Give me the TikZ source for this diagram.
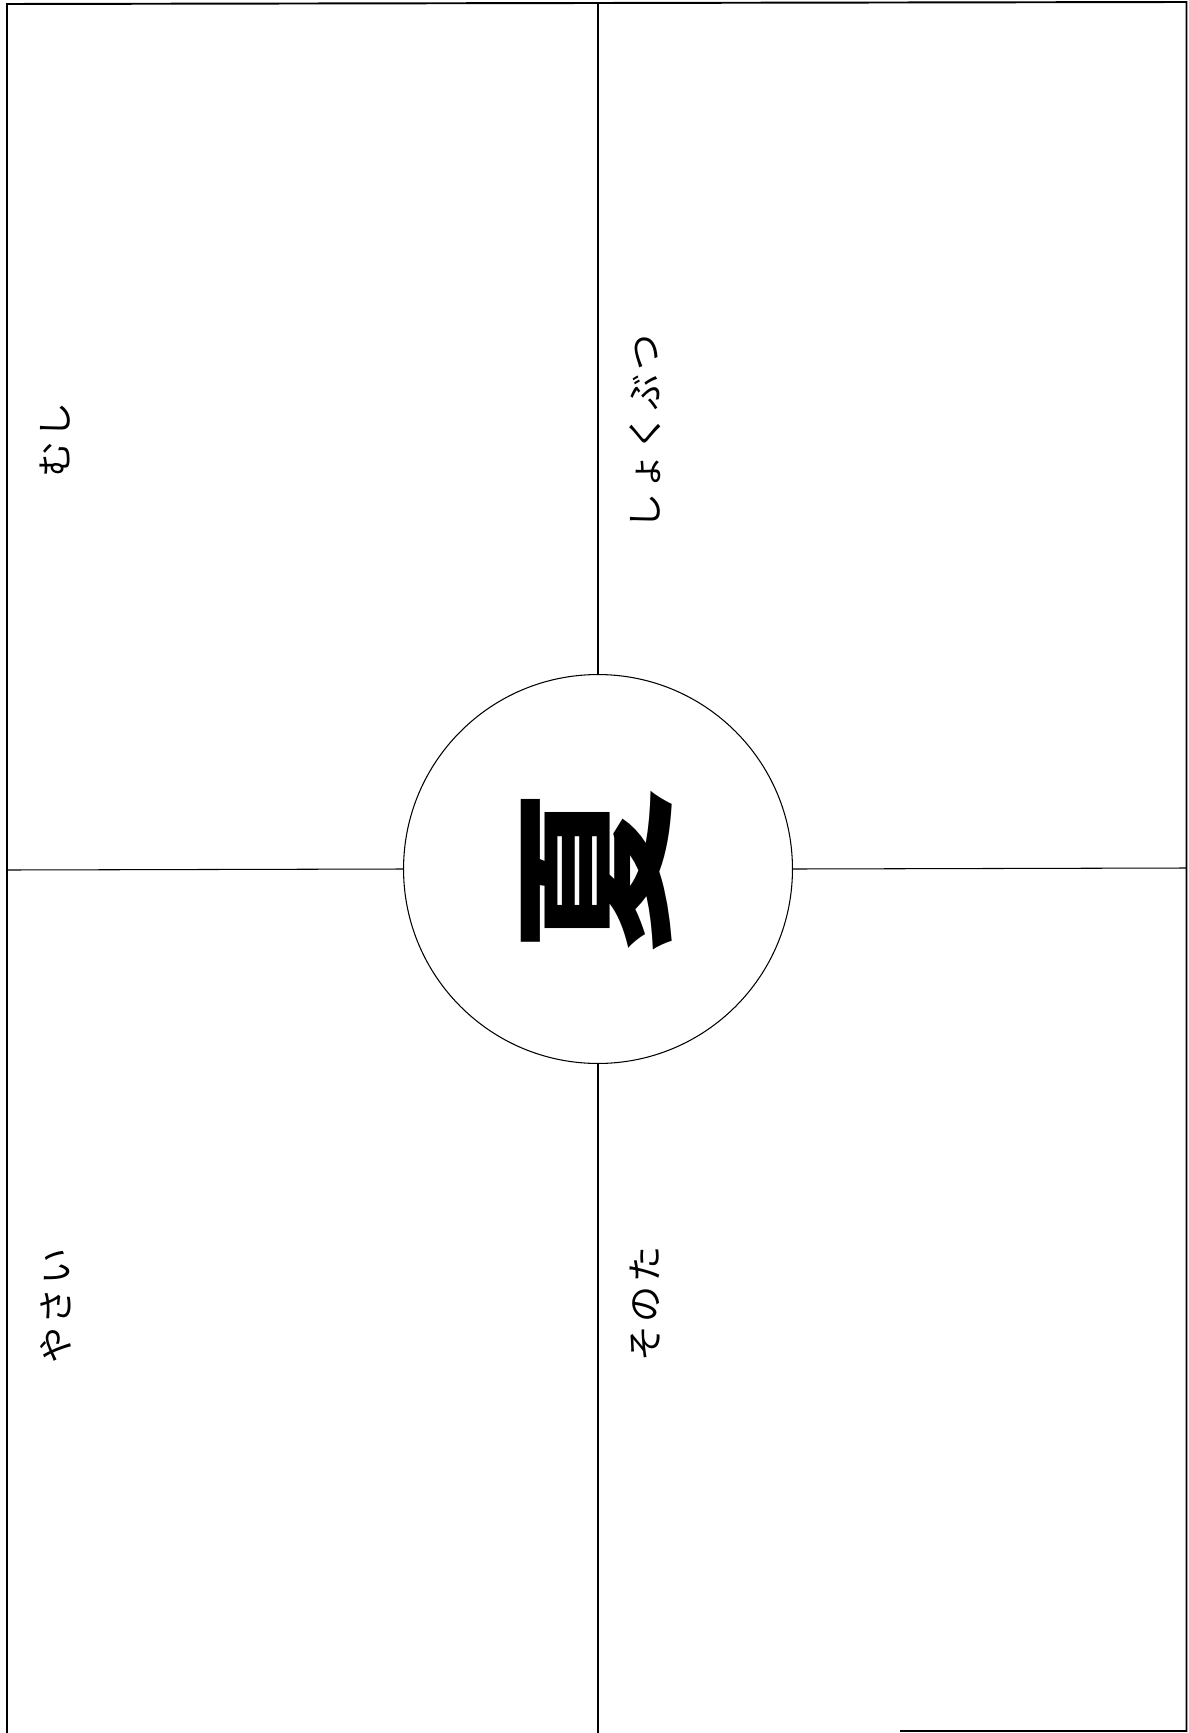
\documentclass[tikz,border=0pt]{standalone}
\usepackage{fontspec}
\usepackage{tikz}
\newfontfamily\jpfont[LetterSpace=10]{Noto Sans CJK JP}
\newfontfamily\kanjifont{Noto Sans CJK JP}

\begin{document}
\begin{tikzpicture}[
      x=0.02cm, y=-0.02cm,
      frame/.style={line width=1.1pt, line join=miter},
      divider/.style={line width=0.6pt},
      hub/.style={circle, draw, line width=0.6pt, minimum size=7.78cm,
        inner sep=0pt},
      topic/.style={rotate=90, inner sep=0pt,
        font=\jpfont\fontsize{20.5}{24}\selectfont},
      bigchar/.style={rotate=90, inner sep=0pt,
        font=\kanjifont\bfseries\fontsize{94}{98}\selectfont}
    ]
    \useasboundingbox (0,0) rectangle (1188,1733);

    % sheet border (bottom edge only partly printed)
    \draw[frame] (900,1731) -- (1186.5,1731) -- (1186.5,2) -- (7,4) -- (7,1733);

    \node[hub] (summer) at (598,869) {};
    \node[bigchar] (kanji) at (597,871) {夏};

    \coordinate (topend) at (598,4);
    \coordinate (bottomend) at (598,1733);
    \coordinate (leftend) at (7,870);
    \coordinate (rightend) at (1186.5,868);
    \draw[divider] (summer.north) -- (topend);
    \draw[divider] (summer.south) -- (bottomend);
    \draw[divider] (summer.west) -- (leftend);
    \draw[divider] (summer.east) -- (rightend);

    \node[topic] (insects) at (55,440) {むし};
    \node[topic] (plants) at (645,432) {しょくぶつ};
    \node[topic] (vegetables) at (56,1306) {やさい};
    \node[topic] (others) at (645,1304) {そのた};
  \end{tikzpicture}
\end{document}
